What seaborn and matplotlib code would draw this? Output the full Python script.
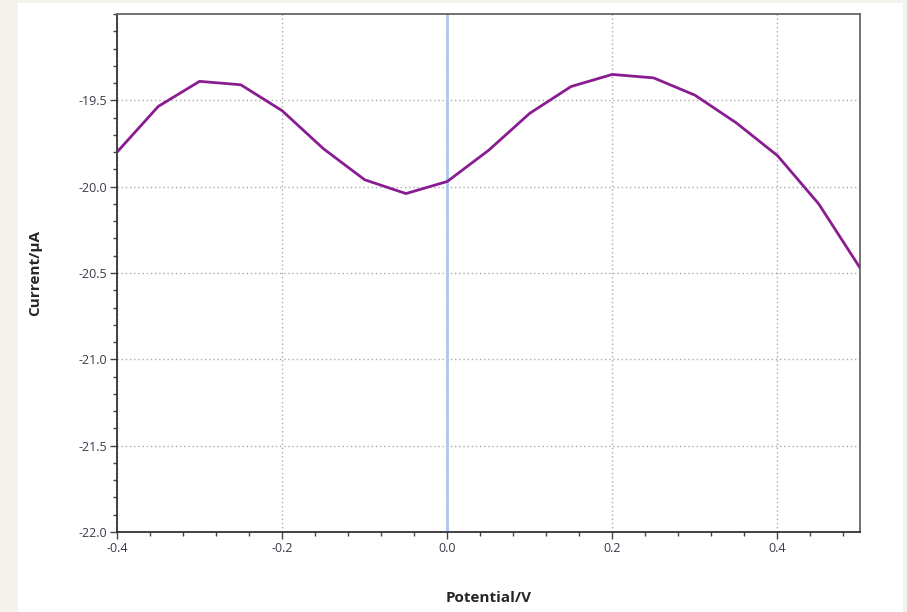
import matplotlib.pyplot as plt
import matplotlib.patches as mpatches
from matplotlib.ticker import MultipleLocator
import pandas as pd
import seaborn as sns

potential = [-0.40, -0.35, -0.30, -0.25, -0.20, -0.15, -0.10, -0.05, 0.00,
             0.05, 0.10, 0.15, 0.20, 0.25, 0.30, 0.35, 0.40, 0.45, 0.50]
current = [-19.80, -19.535, -19.39, -19.41, -19.56, -19.78, -19.96, -20.04, -19.97,
           -19.79, -19.575, -19.42, -19.35, -19.37, -19.47, -19.63, -19.82, -20.10, -20.47]
x_ticks = [-0.4, -0.2, 0.0, 0.2, 0.4]
y_ticks = [-22.0, -21.5, -21.0, -20.5, -20.0, -19.5]


def main() -> None:
    sns.set_style("white")
    plt.rcParams["font.family"] = ["Open Sans", "DejaVu Sans"]

    data = pd.DataFrame({"Potential": potential, "Current": current})

    fig = plt.figure(figsize=(9.07, 6.12), dpi=100)
    fig.patch.set_facecolor("#f3f2ec")
    panel = mpatches.Rectangle((18 / 907, 0), 885 / 907, 609 / 612,
                               transform=fig.transFigure,
                               facecolor="white", edgecolor="none", zorder=-10)
    fig.add_artist(panel)
    ax = fig.add_axes([117 / 907, 1 - 532 / 612, 743 / 907, 518 / 612])
    ax.set_zorder(1)
    ax.set_facecolor("white")

    ax.axvline(0.0, color="#a9c8ee", linewidth=2, zorder=1)
    sns.lineplot(data=data, x="Potential", y="Current", color="#8a1c92",
                 linewidth=2, ax=ax, zorder=3)

    ax.set_xlim(-0.4, 0.5)
    ax.set_ylim(-22.0, -19.0)
    ax.set_xticks(x_ticks)
    ax.set_xticklabels([f"{v:.1f}" for v in x_ticks])
    ax.set_yticks(y_ticks)
    ax.set_yticklabels([f"{v:.1f}" for v in y_ticks])
    ax.xaxis.set_minor_locator(MultipleLocator(0.04))
    ax.yaxis.set_minor_locator(MultipleLocator(0.1))
    ax.tick_params(axis="both", which="both", direction="out", color="#444444",
                   left=True, bottom=True)
    ax.tick_params(axis="both", which="major", length=5, width=1,
                   labelsize=9, labelcolor="#3a3a4a", pad=2)
    ax.tick_params(axis="both", which="minor", length=3, width=1)
    ax.grid(True, which="major", linestyle=(0, (1, 2)), color="#aaaaaa", linewidth=1)

    for side in ["left", "bottom"]:
        ax.spines[side].set_color("#333333")
        ax.spines[side].set_linewidth(1.3)
    for side in ["top", "right"]:
        ax.spines[side].set_color("#666666")
        ax.spines[side].set_linewidth(1.3)

    ax.set_xlabel("Potential/V", fontsize=11, fontweight="bold", labelpad=26)
    ax.set_ylabel("Current/μA", fontsize=11, fontweight="bold", labelpad=26)

    fig.savefig("out.png", dpi=100)
    plt.close(fig)


if __name__ == "__main__":
    main()
